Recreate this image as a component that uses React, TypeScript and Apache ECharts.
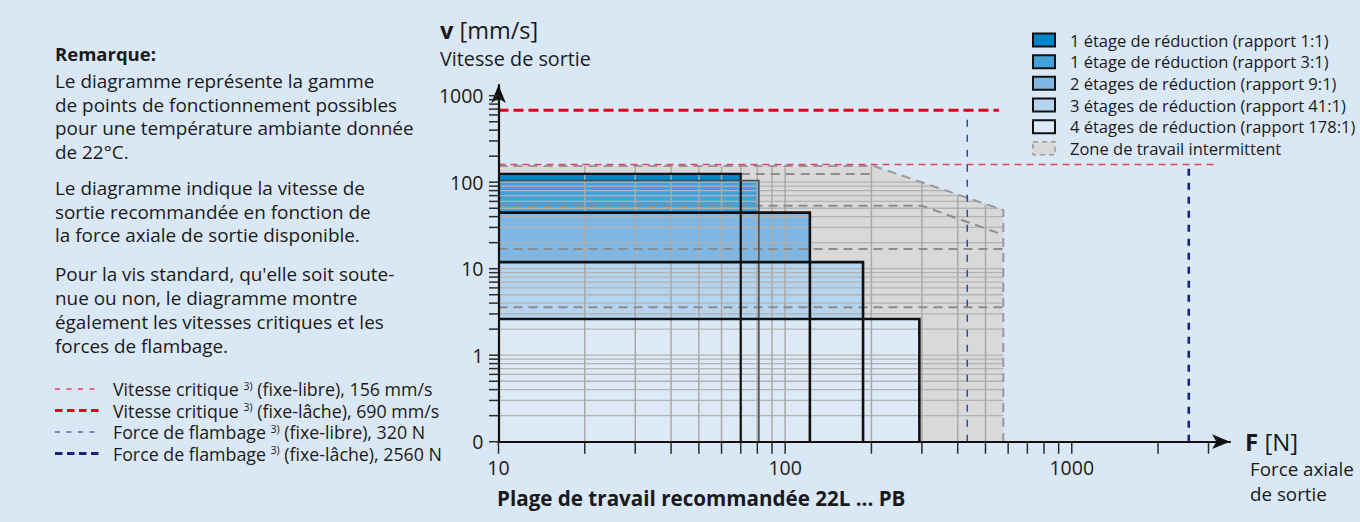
import { useEffect, useRef } from 'react';
import * as echarts from 'echarts';

const FONT = '"Open Sans", "Noto Sans", sans-serif';
const TEXT = '#1a1a1a';
const BG = '#dae8f5';

// ---------------- data ----------------
const stageNames = [
  '1 étage de réduction (rapport 1:1)',
  '1 étage de réduction (rapport 3:1)',
  '2 étages de réduction (rapport 9:1)',
  '3 étages de réduction (rapport 41:1)',
  '4 étages de réduction (rapport 178:1)',
];
const stageMaxForce = [70, 81, 122, 187, 294];
const stageMaxSpeed = [125, 105, 44.5, 11.9, 2.62];
const intermittentName = 'Zone de travail intermittent';
const intermittentZone = [[10, 154], [204, 154], [577, 47.7], [577, 0.1], [10, 0.1]];
const intermittentLimits = [
  [[70, 124.5], [200, 124.5]],
  [[10, 53.5], [300, 53.5], [577, 24.6]],
  [[10, 16.9], [577, 16.9]],
  [[10, 3.58], [577, 3.58]],
];
const gridForces = [20, 30, 40, 50, 60, 70, 80, 90, 100, 200, 300, 400, 500];
const gridSpeeds = [0.2, 0.3, 0.4, 0.5, 0.6, 0.7, 0.8, 0.9, 1, 2, 3, 4, 5, 6, 7, 8, 9, 10, 20, 30, 40, 50, 60, 70, 80, 90, 100];
const forceTicks = [10, 20, 30, 40, 50, 60, 70, 80, 90, 100, 200, 300, 400, 500, 600, 700, 800, 900, 1000, 2000, 3000];
const speedTicks = [0.1, 0.2, 0.3, 0.4, 0.5, 0.6, 0.7, 0.8, 0.9, 1, 2, 3, 4, 5, 6, 7, 8, 9, 10, 20, 30, 40, 50, 60, 70, 80, 90, 100, 200, 300, 400, 500, 600, 700, 800, 900, 1000];
const criticalSpeedLines = [
  [[10, 160], [3220, 160]],
  [[10, 680], [557, 680]],
];
const bucklingForceLines = [
  [[432, 0.1], [432, 680]],
  [[2560, 0.1], [2560, 160]],
];
const limitNames = ['Vitesse critique', 'Vitesse critique', 'Force de flambage', 'Force de flambage'];
const limitNotes = [' (fixe-libre), 156 mm/s', ' (fixe-lâche), 690 mm/s', ' (fixe-libre), 320 N', ' (fixe-lâche), 2560 N'];
const noteTitle = 'Remarque:';
const noteParagraphs = [
  ['Le diagramme représente la gamme', 'de points de fonctionnement possibles', 'pour une température ambiante donnée', 'de 22°C.'],
  ['Le diagramme indique la vitesse de', 'sortie recommandée en fonction de', 'la force axiale de sortie disponible.'],
  ["Pour la vis standard, qu'elle soit soute-", 'nue ou non, le diagramme montre', 'également les vitesses critiques et les', 'forces de flambage.'],
];

// ---------------- styles ----------------
const stageFills = ['#0085c8', '#43a1d9', '#80b7e2', '#b5d4ef', '#dde9f6'];
const stageStrokes = ['#111', '#4a4a4a', '#111', '#111', '#111'];
const stageWidths = [2.2, 1.5, 2.6, 2.6, 2.6];
const limitStyles = [
  { stroke: '#e4405c', lineWidth: 1.6, lineDash: [7, 5] },
  { stroke: '#e3001b', lineWidth: 3, lineDash: [10, 5] },
  { stroke: '#33479c', lineWidth: 1.5, lineDash: [7, 8] },
  { stroke: '#18257a', lineWidth: 2.6, lineDash: [7, 7] },
];
const legendLimitStyles = [
  { stroke: '#e4405c', lineWidth: 1.4, lineDash: [5, 6.5] },
  { stroke: '#e3001b', lineWidth: 2.8, lineDash: [7.5, 4.5] },
  { stroke: '#5566aa', lineWidth: 1.4, lineDash: [5, 6.5] },
  { stroke: '#18257a', lineWidth: 2.8, lineDash: [7.5, 4.5] },
];

const L = Math.log10;
const zA = intermittentZone[1];
const zB = intermittentZone[2];
function zoneRightAt(v: number) {
  if (v <= zB[1]) return zB[0];
  if (v >= zA[1]) return zA[0];
  const t = (L(zA[1]) - L(v)) / (L(zA[1]) - L(zB[1]));
  return Math.pow(10, L(zA[0]) + t * (L(zB[0]) - L(zA[0])));
}
function zoneTopAt(f: number) {
  if (f <= zA[0]) return zA[1];
  const t = (L(f) - L(zA[0])) / (L(zB[0]) - L(zA[0]));
  return Math.pow(10, L(zA[1]) - t * (L(zA[1]) - L(zB[1])));
}
function isPow10(v: number) {
  const l = L(v);
  return Math.abs(l - Math.round(l)) < 1e-6;
}

function polyline(pts: number[][], api: any, style: any) {
  return { type: 'polyline', shape: { points: pts.map((p) => api.coord(p)) }, style: { fill: 'none', ...style } };
}

export default function App() {
  const ref = useRef<HTMLDivElement>(null);
  useEffect(() => {
    if (!ref.current) return;
    const chart = echarts.init(ref.current, null, { renderer: 'svg' });

    const graphic: any[] = [];
    // titles
    graphic.push({
      type: 'text', x: 440, y: 29.5,
      style: { text: '{b|v}{r| [mm/s]}', verticalAlign: 'middle',
        rich: {
          b: { fontFamily: FONT, fontSize: 23.5, fontWeight: 'bold', fill: TEXT, lineHeight: 23 },
          r: { fontFamily: FONT, fontSize: 23.5, fill: TEXT, lineHeight: 23 },
        } },
    });
    graphic.push({ type: 'text', x: 440, y: 58, style: { text: 'Vitesse de sortie', fontFamily: FONT, fontSize: 19.8, lineHeight: 20, fill: TEXT, verticalAlign: 'middle' } });
    graphic.push({
      type: 'text', x: 1245, y: 441,
      style: { text: '{b|F}{r| [N]}', verticalAlign: 'middle',
        rich: {
          b: { fontFamily: FONT, fontSize: 24, fontWeight: 'bold', fill: TEXT, lineHeight: 24 },
          r: { fontFamily: FONT, fontSize: 24, fill: TEXT, lineHeight: 24 },
        } },
    });
    graphic.push({ type: 'text', x: 1250, y: 469, style: { text: 'Force axiale', fontFamily: FONT, fontSize: 18.8, lineHeight: 20, fill: TEXT, verticalAlign: 'middle' } });
    graphic.push({ type: 'text', x: 1250, y: 494, style: { text: 'de sortie', fontFamily: FONT, fontSize: 18.8, lineHeight: 20, fill: TEXT, verticalAlign: 'middle' } });
    graphic.push({ type: 'text', x: 497, y: 498, style: { text: 'Plage de travail recommandée 22L ... PB', fontFamily: FONT, fontSize: 20.6, lineHeight: 21, fontWeight: 'bold', fill: TEXT, verticalAlign: 'middle' } });

    // note text
    graphic.push({ type: 'text', x: 55, y: 53, style: { text: noteTitle, fontFamily: FONT, fontSize: 18.5, lineHeight: 19, fontWeight: 'bold', fill: TEXT, verticalAlign: 'middle' } });
    const paraStarts = [80.7, 187.7, 274.3];
    noteParagraphs.forEach((lines, pi) => {
      lines.forEach((line, li) => {
        graphic.push({ type: 'text', x: 55, y: paraStarts[pi] + li * 23.8, style: { text: line, fontFamily: FONT, fontSize: 18.9, lineHeight: 20, fill: TEXT, verticalAlign: 'middle' } });
      });
    });

    // limit legend (bottom-left)
    const limitRows = [389, 410.5, 432, 453.5];
    limitNames.forEach((name, i) => {
      const y = limitRows[i];
      graphic.push({ type: 'line', shape: { x1: 55, y1: y, x2: 100, y2: y }, style: { ...legendLimitStyles[i], fill: 'none' } });
      graphic.push({
        type: 'text', x: 113, y,
        style: {
          text: '{n|' + name + ' }{s|3)}{n|' + limitNotes[i] + '}',
          verticalAlign: 'middle',
          rich: {
            n: { fontFamily: FONT, fontSize: 17.8, fill: TEXT, lineHeight: 18 },
            s: { fontFamily: FONT, fontSize: 10.5, fill: TEXT, lineHeight: 10, verticalAlign: 'top' },
          },
        },
      });
    });

    // stage legend (top-right)
    const legendRows = [40, 61.7, 83.3, 105, 126.7, 148.3];
    stageNames.forEach((name, i) => {
      const y = legendRows[i];
      graphic.push({ type: 'rect', shape: { x: 1033, y: y - 6.5, width: 22, height: 13 }, style: { fill: stageFills[i], stroke: '#111', lineWidth: 2 } });
      graphic.push({ type: 'text', x: 1070, y, style: { text: name, fontFamily: FONT, fontSize: 16.5, lineHeight: 18, fill: TEXT, verticalAlign: 'middle' } });
    });
    {
      const y = legendRows[5];
      graphic.push({ type: 'rect', shape: { x: 1033, y: y - 6.5, width: 22, height: 13 }, style: { fill: '#d9d9d9', stroke: '#9a9a9a', lineWidth: 1.6, lineDash: [5, 4] } });
      graphic.push({ type: 'text', x: 1070, y, style: { text: intermittentName, fontFamily: FONT, fontSize: 16.5, lineHeight: 18, fill: TEXT, verticalAlign: 'middle' } });
    }

    const axisLabelFmt = (v: number) => {
      if (!isPow10(v)) return '';
      if (v < 0.5) return '0';
      return String(Math.round(v));
    };

    const option: any = {
      animation: false,
      backgroundColor: BG,
      grid: { left: 498.5, right: 130, top: 85, bottom: 80.3 },
      xAxis: {
        type: 'log', logBase: 10, min: 10, max: 3565, z: 10,
        axisLine: { show: true, symbol: ['none', 'arrow'], symbolSize: [11, 18], lineStyle: { color: '#111', width: 2.2 } },
        axisTick: { show: false },
        splitLine: { show: false },
        minorTick: { show: false },
        axisLabel: { fontFamily: FONT, fontSize: 19.5, color: TEXT, margin: 16, showMaxLabel: false, formatter: axisLabelFmt },
      },
      yAxis: {
        type: 'log', logBase: 10, min: 0.1, max: 1330, z: 10,
        axisLine: { show: true, symbol: ['none', 'arrow'], symbolSize: [11, 18], lineStyle: { color: '#111', width: 2.2 } },
        axisTick: { show: false },
        splitLine: { show: false },
        minorTick: { show: false },
        axisLabel: { fontFamily: FONT, fontSize: 19.5, color: TEXT, margin: 15, showMaxLabel: false, formatter: axisLabelFmt },
      },
      series: [
        // intermittent zone fill
        {
          type: 'custom', z: 1, silent: true, clip: false,
          data: [intermittentZone[0]],
          renderItem: (_p: any, api: any) => ({
            type: 'polygon', shape: { points: intermittentZone.map((p) => api.coord(p)) }, style: { fill: '#d9d9d9' },
          }),
        },
        // stage fills
        {
          type: 'custom', z: 2, silent: true, clip: false,
          data: stageMaxForce.map((f, i) => [f, stageMaxSpeed[i]]),
          renderItem: (p: any, api: any) => {
            const tl = api.coord([10, api.value(1)]);
            const br = api.coord([api.value(0), 0.1]);
            return { type: 'rect', shape: { x: tl[0], y: tl[1], width: br[0] - tl[0], height: br[1] - tl[1] }, style: { fill: stageFills[p.dataIndex] } };
          },
        },
        // horizontal grid
        {
          type: 'custom', z: 3, silent: true, clip: false,
          data: gridSpeeds.map((v) => [10, v]),
          renderItem: (_p: any, api: any) => {
            const v = api.value(1);
            return polyline([[10, v], [zoneRightAt(v), v]], api, { stroke: '#b3b3b3', lineWidth: 1.3 });
          },
        },
        // vertical grid
        {
          type: 'custom', z: 3, silent: true, clip: false,
          data: gridForces.map((f) => [f, 0.1]),
          renderItem: (_p: any, api: any) => {
            const f = api.value(0);
            return polyline([[f, 0.1], [f, zoneTopAt(f)]], api, { stroke: '#a9a9a9', lineWidth: 1.5 });
          },
        },
        // intermittent dashed limits
        {
          type: 'custom', z: 4, silent: true, clip: false,
          data: intermittentLimits.map((l) => l[0]),
          renderItem: (p: any, api: any) => polyline(intermittentLimits[p.dataIndex], api, { stroke: '#8c8c8c', lineWidth: 2, lineDash: [9, 6] }),
        },
        // intermittent zone border
        {
          type: 'custom', z: 4, silent: true, clip: false,
          data: [intermittentZone[0]],
          renderItem: (_p: any, api: any) => polyline(intermittentZone.slice(0, 4), api, { stroke: '#999', lineWidth: 2, lineDash: [9, 6] }),
        },
        // stage outlines
        {
          type: 'custom', z: 5, silent: true, clip: false,
          data: stageMaxForce.map((f, i) => [f, stageMaxSpeed[i]]),
          renderItem: (p: any, api: any) => {
            const f = api.value(0);
            const v = api.value(1);
            return polyline([[10, v], [f, v], [f, 0.1]], api, { stroke: stageStrokes[p.dataIndex], lineWidth: stageWidths[p.dataIndex] });
          },
        },
        // critical speed / buckling lines
        {
          type: 'custom', z: 6, silent: true, clip: false,
          data: [...criticalSpeedLines, ...bucklingForceLines].map((l) => l[0]),
          renderItem: (p: any, api: any) => {
            const lines = [...criticalSpeedLines, ...bucklingForceLines];
            return polyline(lines[p.dataIndex], api, limitStyles[p.dataIndex]);
          },
        },
        // x ticks
        {
          type: 'custom', z: 12, silent: true, clip: false,
          data: forceTicks.map((f) => [f, 0.1]),
          renderItem: (_p: any, api: any) => {
            const c = api.coord([api.value(0), 0.1]);
            return { type: 'line', shape: { x1: c[0], y1: c[1], x2: c[0], y2: c[1] + 12 }, style: { stroke: '#2a2a2a', lineWidth: 1.5 } };
          },
        },
        // y ticks
        {
          type: 'custom', z: 12, silent: true, clip: false,
          data: speedTicks.map((v) => [10, v]),
          renderItem: (_p: any, api: any) => {
            const c = api.coord([10, api.value(1)]);
            return { type: 'line', shape: { x1: c[0] - 9.5, y1: c[1], x2: c[0], y2: c[1] }, style: { stroke: '#2a2a2a', lineWidth: 1.5 } };
          },
        },
      ],
      graphic,
    };
    chart.setOption(option);
    return () => chart.dispose();
  }, []);
  return <div ref={ref} style={{ position: 'fixed', left: 0, top: 0, width: 1360, height: 522 }} />;
}
